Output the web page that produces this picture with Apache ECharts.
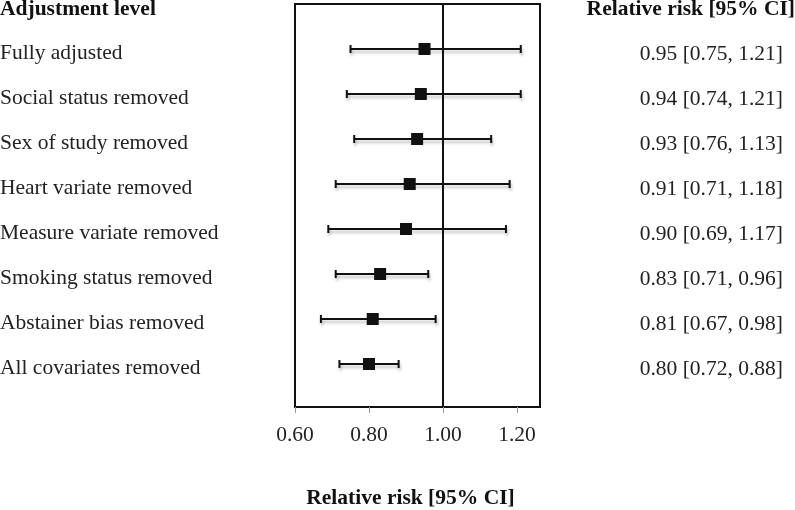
<!DOCTYPE html>
<html>
<head>
<meta charset="utf-8">
<script src="https://cdn.jsdelivr.net/npm/echarts@6/dist/echarts.min.js"></script>
<style>
html,body{margin:0;padding:0;background:#fff;}
#chart{width:795px;height:510px;}
</style>
</head>
<body>
<div id="chart"></div>
<script>
var categories = ['Fully adjusted','Social status removed','Sex of study removed','Heart variate removed','Measure variate removed','Smoking status removed','Abstainer bias removed','All covariates removed'];
var rr    = [0.95, 0.94, 0.93, 0.91, 0.90, 0.83, 0.81, 0.80];
var lower = [0.75, 0.74, 0.76, 0.71, 0.69, 0.71, 0.67, 0.72];
var upper = [1.21, 1.21, 1.13, 1.18, 1.17, 0.96, 0.98, 0.88];
var xTicks = [0.60, 0.80, 1.00, 1.20];
var leftHeader = 'Adjustment level';
var rightHeader = 'Relative risk [95% CI]';
var axisTitle = 'Relative risk [95% CI]';

var FONT = 'Liberation Serif';
var FS = 21.5;
var chart = echarts.init(document.getElementById('chart'), null, {renderer:'canvas'});

var pointData = rr.map(function(v,i){ return [v, i+1]; });
var ciData = rr.map(function(v,i){ return [lower[i], upper[i], i+1]; });
function fmt(v){ return v.toFixed(2); }
var rightLabels = rr.map(function(v,i){ return fmt(v)+' ['+fmt(lower[i])+', '+fmt(upper[i])+']'; });

var option = {
  animation:false,
  backgroundColor:'#fff',
  title:[
    {text:leftHeader, left:0, top:-2, padding:0, textStyle:{fontFamily:FONT, fontSize:FS, fontWeight:'bold', color:'#111'}},
    {text:rightHeader, right:0, top:-2, padding:0, textStyle:{fontFamily:FONT, fontSize:FS, fontWeight:'bold', color:'#111'}}
  ],
  grid:{left:295, right:255, top:4, bottom:103, outerBoundsMode:'none', containLabel:false, show:true, borderColor:'#111', borderWidth:2, backgroundColor:'transparent'},
  xAxis:{
    type:'value', min:0.6, max:1.262, interval:0.2,
    name:axisTitle, nameLocation:'middle', nameGap:80,
    nameTextStyle:{fontFamily:FONT, fontSize:FS, fontWeight:'bold', color:'#111', padding:[0,14,0,0]},
    axisLine:{show:true, onZero:false, lineStyle:{color:'#111', width:2}},
    axisTick:{show:true, length:6, lineStyle:{color:'#999', width:1}},
    splitLine:{show:false},
    axisLabel:{fontFamily:FONT, fontSize:FS, color:'#222', margin:17, showMaxLabel:false,
      formatter:function(v){ var s = xTicks.filter(function(t){return Math.abs(t-v)<1e-6;}); return s.length? fmt(v):''; }}
  },
  yAxis:[
    {type:'value', inverse:true, min:0, max:8.956, interval:1, position:'left',
      axisLine:{show:false, onZero:false}, axisTick:{show:false}, splitLine:{show:false},
      axisLabel:{fontFamily:FONT, fontSize:FS, color:'#222', align:'left', margin:295, verticalAlign:'top', lineHeight:8,
        formatter:function(v){ var i=Math.round(v); return (Math.abs(v-i)<1e-6 && i>=1 && i<=8)? categories[i-1] : ''; }}
    },
    {type:'value', inverse:true, min:0, max:8.956, interval:1, position:'right',
      axisLine:{show:false, onZero:false}, axisTick:{show:false}, splitLine:{show:false},
      axisLabel:{fontFamily:FONT, fontSize:FS, color:'#222', align:'right', margin:243, verticalAlign:'top', lineHeight:10,
        formatter:function(v){ var i=Math.round(v); return (Math.abs(v-i)<1e-6 && i>=1 && i<=8)? rightLabels[i-1] : ''; }}
    }
  ],
  series:[
    {
      type:'custom', xAxisIndex:0, yAxisIndex:0, data:ciData,
      renderItem:function(params, api){
        var p1 = api.coord([api.value(0), api.value(2)]);
        var p2 = api.coord([api.value(1), api.value(2)]);
        var h = 4;
        var style = {stroke:'#111', lineWidth:2, shadowColor:'rgba(0,0,0,0.25)', shadowBlur:3, shadowOffsetY:3, shadowOffsetX:1};
        return {type:'group', children:[
          {type:'line', shape:{x1:p1[0], y1:p1[1], x2:p2[0], y2:p2[1]}, style:style},
          {type:'line', shape:{x1:p1[0], y1:p1[1]-h, x2:p1[0], y2:p1[1]+h}, style:style},
          {type:'line', shape:{x1:p2[0], y1:p2[1]-h, x2:p2[0], y2:p2[1]+h}, style:style}
        ]};
      },
      z:2
    },
    {
      type:'scatter', xAxisIndex:0, yAxisIndex:0, data:pointData,
      symbol:'rect', symbolSize:12, itemStyle:{color:'#111', opacity:1},
      z:3,
      markLine:{silent:true, symbol:'none', label:{show:false}, lineStyle:{color:'#111', width:2, type:'solid'},
        data:[{xAxis:1.0}]}
    }
  ]
};
chart.setOption(option);
</script>
</body>
</html>
